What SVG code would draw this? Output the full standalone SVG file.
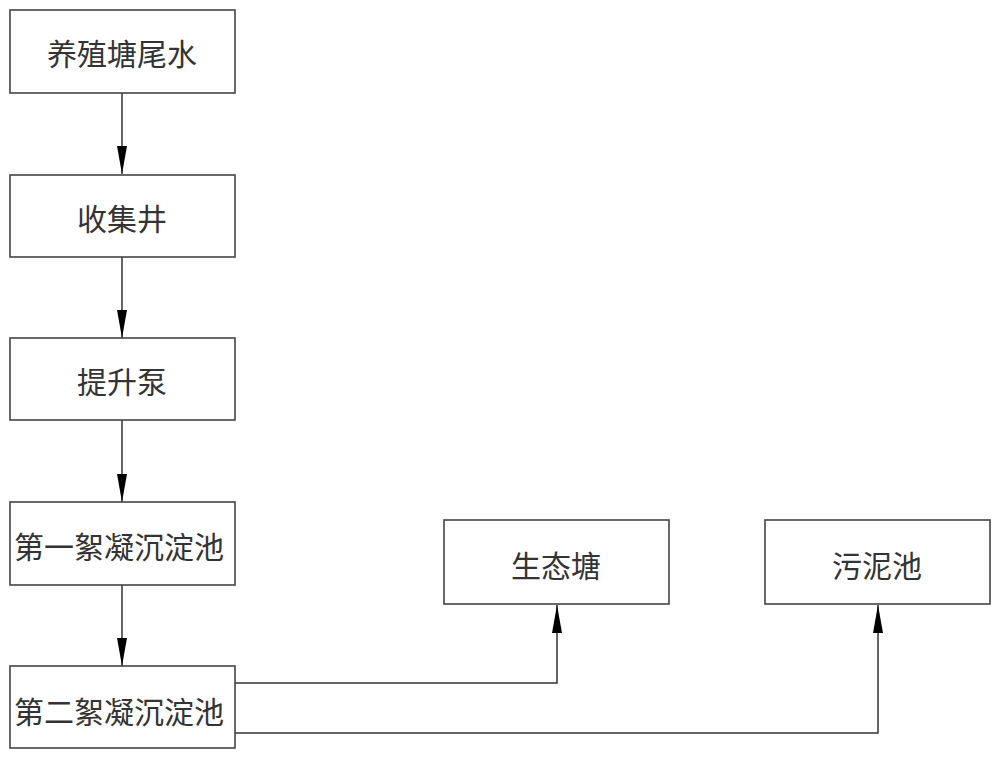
<svg xmlns="http://www.w3.org/2000/svg" width="1000" height="758" viewBox="0 0 1000 758">
<defs>
<style>
.box{fill:#fff;stroke:#444;stroke-width:1.6}
.lbl{font-family:"Noto Sans CJK SC","Liberation Sans",sans-serif;font-size:30px;fill:#333;text-anchor:middle;dominant-baseline:central}
.con{fill:none;stroke:#333;stroke-width:1.5}
</style>
<marker id="arr" viewBox="0 0 10 28" markerWidth="10" markerHeight="28" refX="5" refY="28" orient="0" markerUnits="userSpaceOnUse">
<path d="M0,0 L10,0 L5,28 Z" fill="#000"/>
</marker>
<marker id="arrUp" viewBox="0 0 10 28" markerWidth="10" markerHeight="28" refX="5" refY="0" orient="0" markerUnits="userSpaceOnUse">
<path d="M5,0 L10,28 L0,28 Z" fill="#000"/>
</marker>
</defs>
<rect width="1000" height="758" fill="#fff"/>
<g id="connectors">
<line class="con" x1="122" y1="93" x2="122" y2="174" marker-end="url(#arr)"/>
<line class="con" x1="122" y1="257" x2="122" y2="338" marker-end="url(#arr)"/>
<line class="con" x1="122" y1="420" x2="122" y2="502" marker-end="url(#arr)"/>
<line class="con" x1="122" y1="585" x2="122" y2="666" marker-end="url(#arr)"/>
<path class="con" d="M235,683 H557 V605" marker-end="url(#arrUp)"/>
<path class="con" d="M235,733 H878 V605" marker-end="url(#arrUp)"/>
</g>
<g id="n1"><rect class="box" x="10" y="10" width="225" height="83"/><text class="lbl" x="122" y="52">养殖塘尾水</text></g>
<g id="n2"><rect class="box" x="10" y="175" width="225" height="82"/><text class="lbl" x="122" y="217">收集井</text></g>
<g id="n3"><rect class="box" x="10" y="338" width="225" height="82"/><text class="lbl" x="122" y="380">提升泵</text></g>
<g id="n4"><rect class="box" x="10" y="502" width="225" height="83"/><text class="lbl" x="119" y="545">第一絮凝沉淀池</text></g>
<g id="n5"><rect class="box" x="10" y="666" width="225" height="82"/><text class="lbl" x="119" y="710">第二絮凝沉淀池</text></g>
<g id="n6"><rect class="box" x="444" y="520" width="225" height="84"/><text class="lbl" x="556" y="564">生态塘</text></g>
<g id="n7"><rect class="box" x="765" y="520" width="225" height="84"/><text class="lbl" x="877" y="564">污泥池</text></g>
</svg>
